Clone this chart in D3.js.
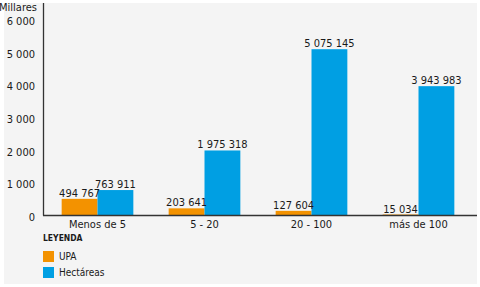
<!DOCTYPE html>
<html>
<head>
<meta charset="utf-8">
<script src="https://cdn.jsdelivr.net/npm/d3@7"></script>
<style>
  body { margin: 0; background: #fff; }
  svg { display: block; }
  text { font-family: "Liberation Sans Narrow", "DejaVu Sans Condensed", sans-serif; fill: #1a1a1a; }
</style>
</head>
<body>
<div id="main"></div>
<script>
// rango de tamano (ha)
const categories = ["Menos de 5", "5 - 20", "20 - 100", "más de 100"];
const upa = [494767, 203641, 127604, 15034];
const hectareas = [763911, 1975318, 5075145, 3943983];
const seriesNames = ["UPA", "Hectáreas"];
const yTicks = [0, 1000, 2000, 3000, 4000, 5000, 6000];

const colors = { "UPA": "#f39200", "Hectáreas": "#009fe3" };

const width = 480, height = 287;

const svg = d3.select('#main')
    .append('svg')
    .attr('width', width)
    .attr('height', height);

// grey panel
svg.append('rect')
    .attr('x', 4).attr('y', 3)
    .attr('width', 473).attr('height', 281)
    .attr('fill', '#f4f4f4');

const y = d3.scaleLinear().domain([0, 6000]).range([215, 19]);

const x0 = d3.scaleBand()
    .domain(categories)
    .range([44, 472])
    .paddingInner(0.33)
    .paddingOuter(0.165);

const x1 = d3.scaleBand()
    .domain(seriesNames)
    .range([0, x0.bandwidth()]);

let rows = categories.map((c, i) => ({
    cat: c,
    vals: [
        { name: "UPA", v: upa[i] },
        { name: "Hectáreas", v: hectareas[i] }
    ]
}));

let fmt = v => d3.format(",")(v).replace(/,/g, " ");

// y tick labels
svg.append('g')
    .selectAll('text')
    .data(yTicks)
    .enter()
    .append('text')
    .attr('x', 35)
    .attr('y', d => y(d) + 6)
    .attr('text-anchor', 'end')
    .style('font-size', '11px')
    .text(d => fmt(d));

svg.append('text')
    .attr('x', 37).attr('y', 11)
    .attr('text-anchor', 'end')
    .style('font-size', '11px')
    .text('Millares');

// bars
let groups = svg.append('g')
    .selectAll('g')
    .data(rows)
    .enter()
    .append('g')
    .attr('transform', d => `translate(${x0(d.cat)},0)`);

groups.selectAll('rect')
    .data(d => d.vals)
    .enter()
    .append('rect')
    .attr('x', d => x1(d.name))
    .attr('y', d => y(d.v / 1000))
    .attr('width', x1.bandwidth())
    .attr('height', d => y(0) - y(d.v / 1000))
    .attr('fill', d => colors[d.name]);

groups.selectAll('text.val')
    .data(d => d.vals)
    .enter()
    .append('text')
    .attr('class', 'val')
    .attr('x', d => x1(d.name) + x1.bandwidth() / 2)
    .attr('y', d => y(d.v / 1000) - 2)
    .attr('text-anchor', 'middle')
    .style('font-size', '11px')
    .text(d => fmt(d.v));

// axes lines
svg.append('line')
    .attr('x1', 43.5).attr('x2', 43.5)
    .attr('y1', 3).attr('y2', 215.5)
    .attr('stroke', '#333').attr('stroke-width', 1.3);

svg.append('line')
    .attr('x1', 43).attr('x2', 477)
    .attr('y1', 215.5).attr('y2', 215.5)
    .attr('stroke', '#333').attr('stroke-width', 1.3);

// category labels
svg.append('g')
    .selectAll('text')
    .data(categories)
    .enter()
    .append('text')
    .attr('x', d => x0(d) + x0.bandwidth() / 2)
    .attr('y', 228)
    .attr('text-anchor', 'middle')
    .style('font-size', '11px')
    .text(d => d);

// legend
svg.append('text')
    .attr('x', 43).attr('y', 241)
    .style('font-size', '8.5px')
    .style('font-weight', 'bold')
    .text('LEYENDA');

let leg = svg.append('g')
    .selectAll('g')
    .data(seriesNames)
    .enter()
    .append('g')
    .attr('transform', (d, i) => `translate(43,${251 + i * 16})`);

leg.append('rect')
    .attr('width', 11).attr('height', 11)
    .attr('fill', d => colors[d]);

leg.append('text')
    .attr('x', 16).attr('y', 9)
    .style('font-size', '10px')
    .text(d => d);
</script>
</body>
</html>
